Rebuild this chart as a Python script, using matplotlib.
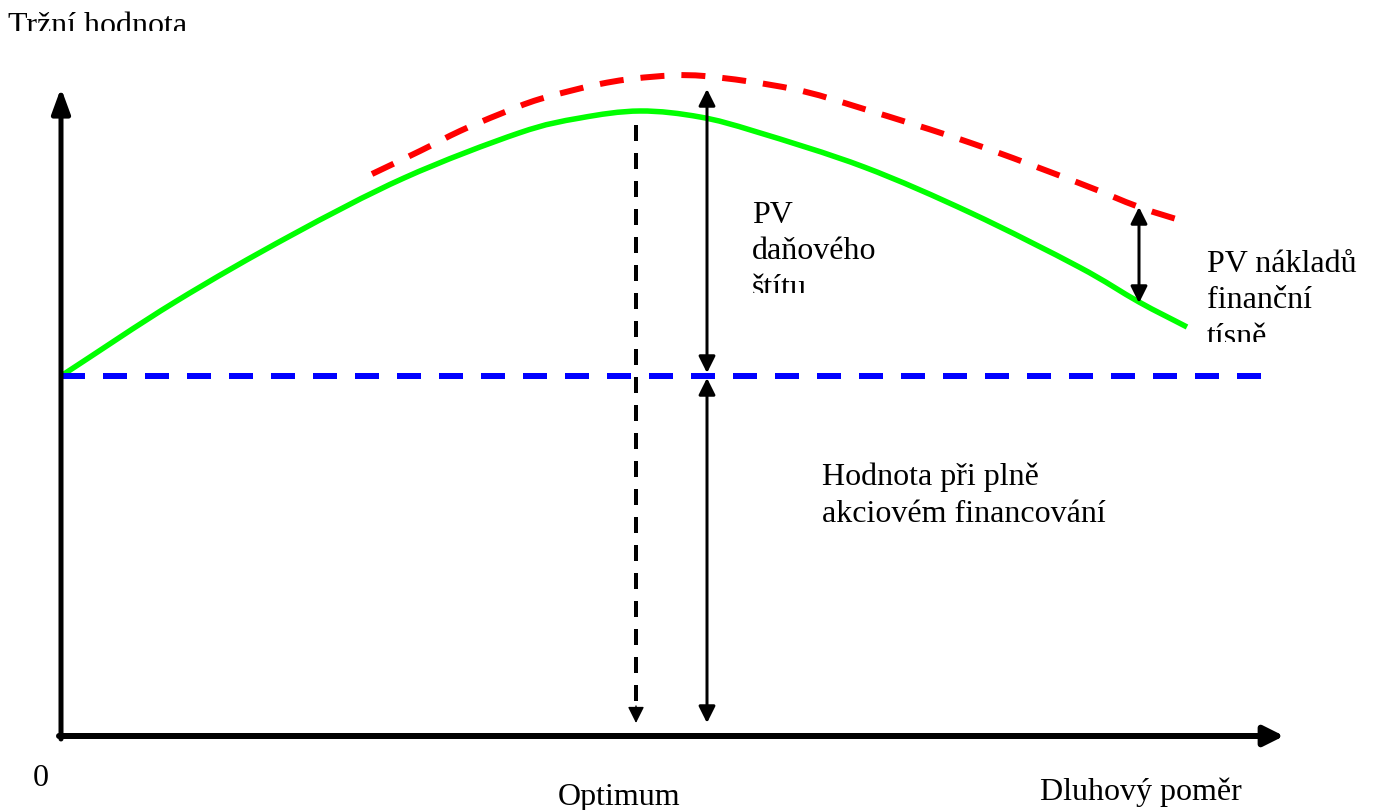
import numpy as np
import matplotlib
matplotlib.use("Agg")
import matplotlib.pyplot as plt
from matplotlib.patches import Rectangle, PathPatch
from matplotlib.path import Path

plt.rcParams['font.family'] = ['Liberation Serif', 'DejaVu Serif']
plt.rcParams['lines.scale_dashes'] = False

# curve points (pixel space, y down)
green_x = [61, 175, 290, 404, 519, 580, 640, 700, 757, 864, 971, 1079, 1139, 1187]
green_y = [376, 302, 236, 178, 133, 118, 111, 117, 132, 167, 213, 267, 302, 327]
red_x = [372, 420, 460, 500, 540, 600, 650, 704, 793, 864, 971, 1079, 1139, 1189]
red_y = [174, 151, 131, 114, 99, 84, 77, 76, 89, 109, 143, 183, 207, 223]
base_y = 376
base_x = [61, 1265]
optimum_x = 636
tax_x = 707
distress_x = 1139

fig = plt.figure(figsize=(13.75, 8.1), dpi=100)
ax = fig.add_axes([0, 0, 1, 1])
ax.set_xlim(0, 1375)
ax.set_ylim(810, 0)
ax.axis('off')

px = 0.72  # pixels -> points at dpi 100


def smooth_path(xs, ys):
    # Catmull-Rom through the read points, drawn as cubic bezier segments
    p = np.column_stack([xs, ys]).astype(float)
    ext = np.vstack([2 * p[0] - p[1], p, 2 * p[-1] - p[-2]])
    verts = [p[0]]
    codes = [Path.MOVETO]
    for i in range(1, len(ext) - 2):
        c1 = ext[i] + (ext[i + 1] - ext[i - 1]) / 6
        c2 = ext[i + 1] - (ext[i + 2] - ext[i]) / 6
        verts += [c1, c2, ext[i + 1]]
        codes += [Path.CURVE4] * 3
    return Path(verts, codes)


# axes arrows
ax.annotate('', xy=(61, 88), xytext=(61, 739),
            arrowprops=dict(arrowstyle='-|>,head_length=1.5,head_width=0.55',
                            mutation_scale=10, lw=5 * px, color='black',
                            shrinkA=0, shrinkB=0))
ax.annotate('', xy=(1284, 736), xytext=(59, 736),
            arrowprops=dict(arrowstyle='-|>,head_length=1.2,head_width=0.6',
                            mutation_scale=10, lw=6 * px, color='black',
                            shrinkA=0, shrinkB=0))

# base value (all-equity)
ax.plot(base_x, [base_y, base_y], color='#0000ff', lw=6 * px,
        dashes=(24 * px, 18 * px), solid_capstyle='butt', dash_capstyle='butt')

# red dashed (value with tax shield)
ax.add_patch(PathPatch(smooth_path(red_x, red_y), fill=False, edgecolor='#ff0000',
                       lw=6 * px, linestyle=(0, (24 * px, 17 * px)),
                       capstyle='butt'))

# green (actual value)
ax.add_patch(PathPatch(smooth_path(green_x, green_y), fill=False, edgecolor='#00ff00',
                       lw=5.5 * px, capstyle='butt'))

# optimum dashed line with head
ax.plot([optimum_x, optimum_x], [125, 704], color='black', lw=4 * px,
        dashes=(16 * px, 12 * px), dash_capstyle='butt')
ax.annotate('', xy=(optimum_x, 723), xytext=(optimum_x, 706),
            arrowprops=dict(arrowstyle='-|>,head_length=1.0,head_width=0.5',
                            mutation_scale=10, lw=1, color='black',
                            shrinkA=0, shrinkB=0))

# double arrows
dbl = dict(arrowstyle='<|-|>,head_length=1.0,head_width=0.5',
           mutation_scale=10, lw=3 * px, color='black', shrinkA=0, shrinkB=0)
ax.annotate('', xy=(tax_x, 89), xytext=(tax_x, 373), arrowprops=dbl)
ax.annotate('', xy=(tax_x, 378), xytext=(tax_x, 723), arrowprops=dbl)
ax.annotate('', xy=(distress_x, 207), xytext=(distress_x, 303), arrowprops=dbl)

fs = 23


def clipped(x, y, s, clip_bottom):
    t = ax.text(x, y, s, fontsize=fs, va='baseline', ha='left', color='black')
    r = Rectangle((0, 0), 1375, clip_bottom, transform=ax.transData)
    t.set_clip_path(r)
    t.set_clip_on(True)
    return t


clipped(8, 34, 'Tržní hodnota', 31)
ax.text(752, 223, 'PV', fontsize=fs, va='baseline')
ax.text(752, 259, 'daňového', fontsize=fs, va='baseline')
clipped(752, 296, 'štítu', 293)
ax.text(1207, 272, 'PV nákladů', fontsize=fs, va='baseline')
ax.text(1207, 308, 'finanční', fontsize=fs, va='baseline')
clipped(1207, 345, 'tísně', 342)
ax.text(822, 485, 'Hodnota při plně', fontsize=fs, va='baseline')
ax.text(822, 522, 'akciovém financování', fontsize=fs, va='baseline')
ax.text(33, 786, '0', fontsize=fs, va='baseline')
ax.text(558, 805, 'Optimum', fontsize=fs, va='baseline')
ax.text(1040, 800, 'Dluhový poměr', fontsize=fs, va='baseline')

fig.savefig('out.png', dpi=100, facecolor='white')
